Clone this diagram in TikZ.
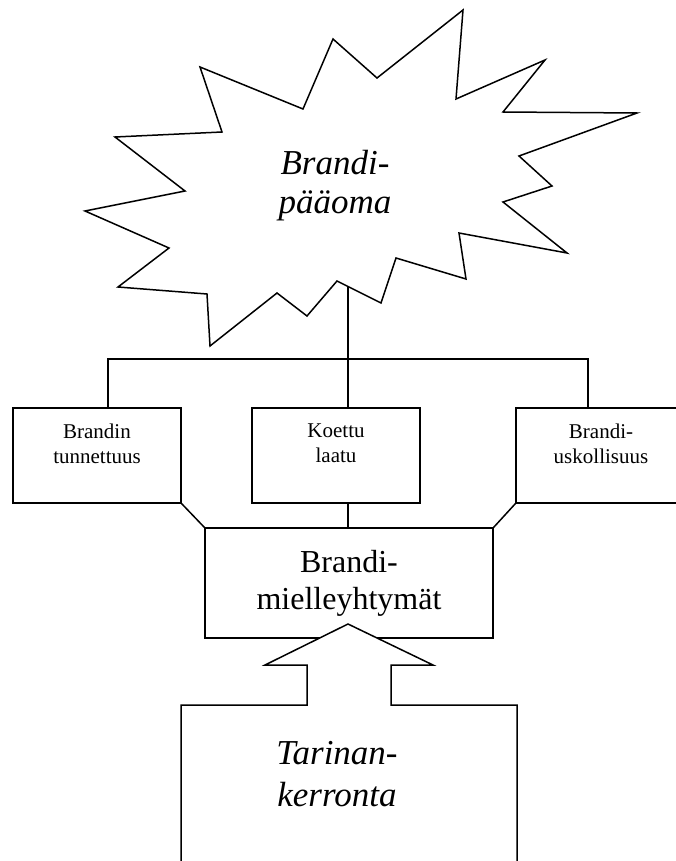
\documentclass[tikz,border=0pt]{standalone}
\usepackage{fontspec}
\setmainfont{Liberation Serif}
\usetikzlibrary{positioning}

\tikzset{
  box/.style={draw, inner sep=0pt, minimum height=95pt},
  smalltext/.style={inner sep=0pt, align=center, font=\fontsize{21}{25}\selectfont},
  bigtext/.style={inner sep=0pt, align=center, font=\fontsize{35}{39}\selectfont\itshape},
}

\begin{document}
\begin{tikzpicture}[x=1pt, y=-1pt, line width=1.5pt]
\useasboundingbox (0,0) rectangle (675,861);

% tahti
\draw (463,10) -- (456,99) -- (545,60) -- (503,112) -- (637,113) -- (519,156) -- (552,186) -- (503,202) -- (567,253) -- (459,233) -- (466,279) -- (396,258) -- (381,303) -- (337,281) -- (307,316) -- (277,293) -- (210,346) -- (207,294) -- (118,287) -- (169,248) -- (85,211) -- (185,191) -- (115,137) -- (222,132) -- (200,67) -- (303,109) -- (333,39) -- (377,78) -- cycle;
\node[bigtext] (paaoma) at (335,186) {Brandi-\\pääoma};
\coordinate (burst) at (348,287);
\coordinate (split) at (348,359);

\node[box, minimum width=168pt] (tunn) at (97,455.5) {};
\node[box, minimum width=168pt] (laatu) at (336,455.5) {};
\node[box, minimum width=170pt] (usko) at (601,455.5) {};
\node[smalltext, below=16pt of tunn.north] (tunnteksti) {Brandin\\tunnettuus};
\node[smalltext, below=16pt of laatu.north] (laatuteksti) {Koettu\\laatu};
\node[smalltext, below=16pt of usko.north] (uskoteksti) {Brandi-\\uskollisuus};

\draw (burst) -- (burst |- laatu.north);
\draw ([xshift=11pt]tunn.north) |- (split) -| ([xshift=-13pt]usko.north);

\node[box, minimum width=288pt, minimum height=110pt, align=center, font=\fontsize{32}{37}\selectfont] (miell) at (349,583) {Brandi-\\mielleyhtymät};
\draw (tunn.south east) -- (miell.north west);
\draw (usko.south west) -- (miell.north east);
\draw (laatu.south -| burst) -- (miell.north -| burst);

% nuoli ja laatikko
\coordinate (tip) at (348,624);
\filldraw[fill=white] (181,880) -- (181,705) -- (307,705) -- (307,665) -- (265,665) -- (tip) -- (433,665) -- (391,665) -- (391,705) -- (517,705) -- (517,880);
\node[bigtext, font=\fontsize{35}{42}\selectfont\itshape] (tarina) at (337,774) {Tarinan-\\kerronta};
\end{tikzpicture}
\end{document}
